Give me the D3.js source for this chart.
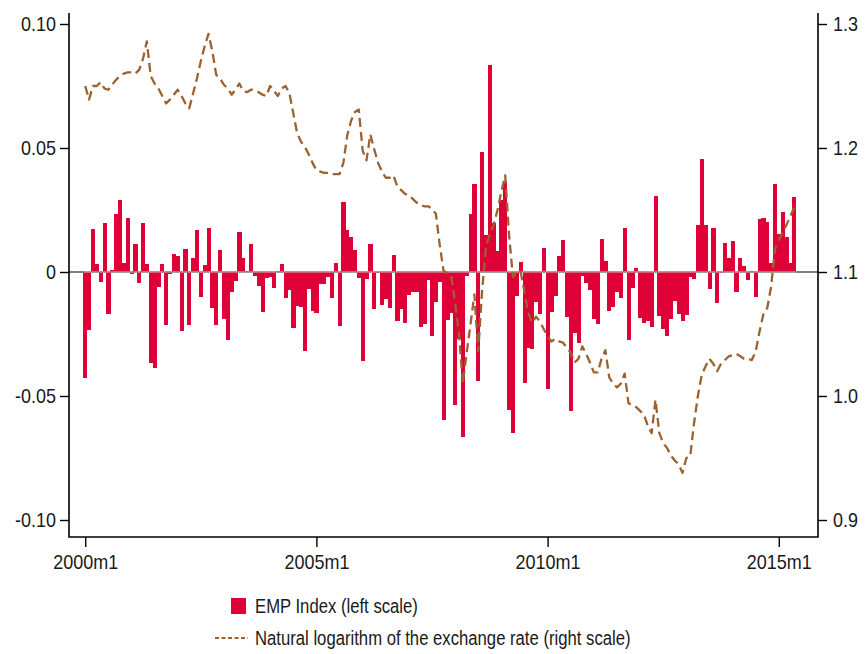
<!DOCTYPE html>
<html>
<head>
<meta charset="utf-8">
<script src="https://cdn.jsdelivr.net/npm/d3@7/dist/d3.min.js"></script>
<style>
  html, body { margin: 0; padding: 0; background: #fff; }
  svg { display: block; }
  text { font-family: "Liberation Sans Narrow", "Arial Narrow", "Liberation Sans", sans-serif; fill: #1a1a1a; }
</style>
</head>
<body>
<svg id="chart" width="866" height="654"></svg>
<script>
// Monthly observations, 2000m1 onwards (index 0 = 2000m1)
const startYear = 2000;

// Exchange market pressure index (left scale)
const emp = [
  -0.0426, -0.0234, 0.0173, 0.0032, -0.0039, 0.0198, -0.0169, 0.0008, 0.0234, 0.0290,
  0.0036, 0.0218, -0.0007, 0.0113, -0.0043, 0.0198, 0.0032, -0.0368, -0.0386, -0.0059,
  0.0032, -0.0212, -0.0010, 0.0073, 0.0065, -0.0237, 0.0093, -0.0212, 0.0056, 0.0169,
  -0.0099, 0.0028, 0.0177, -0.0144, -0.0212, 0.0089, -0.0190, -0.0273, -0.0079, -0.0035,
  0.0161, 0.0056, 0.0003, 0.0113, -0.0015, -0.0055, -0.0160, -0.0023, -0.0019, -0.0063,
  0.0005, 0.0032, -0.0103, -0.0071, -0.0224, -0.0136, -0.0140, -0.0317, -0.0070, -0.0156,
  -0.0164, -0.0047, -0.0047, -0.0019, -0.0103, 0.0036, -0.0216, 0.0282, 0.0169, 0.0141,
  0.0089, -0.0023, -0.0358, -0.0027, 0.0113, -0.0148, -0.0005, -0.0132, -0.0108, -0.0144,
  0.0069, -0.0196, -0.0148, -0.0204, -0.0091, -0.0079, -0.0079, -0.0220, -0.0208, -0.0031,
  -0.0257, -0.0120, -0.0039, -0.0595, -0.0192, -0.0164, -0.0535, -0.0269, -0.0664, -0.0015,
  0.0234, 0.0355, -0.0438, 0.0484, 0.0149, 0.0835, 0.0198, 0.0085, 0.0290, 0.0367,
  -0.0555, -0.0648, -0.0095, 0.0040, -0.0446, -0.0305, -0.0309, -0.0120, -0.0168, 0.0097,
  -0.0470, -0.0160, -0.0095, 0.0065, 0.0129, -0.0180, -0.0559, -0.0245, -0.0285, -0.0015,
  -0.0043, -0.0071, -0.0188, -0.0208, 0.0133, 0.0044, -0.0156, -0.0140, -0.0079, -0.0103,
  0.0177, -0.0273, -0.0063, 0.0016, -0.0184, -0.0204, -0.0196, -0.0220, 0.0306, -0.0176,
  -0.0228, -0.0257, -0.0188, -0.0116, -0.0168, -0.0196, -0.0172, -0.0019, -0.0027, 0.0190,
  0.0456, 0.0190, -0.0067, 0.0177, -0.0124, -0.0003, 0.0117, 0.0056, 0.0125, -0.0079,
  0.0056, 0.0024, -0.0031, 0.0004, -0.0099, 0.0214, 0.0218, 0.0202, 0.0036, 0.0355,
  0.0153, 0.0242, 0.0141, 0.0036, 0.0302
];

// Natural logarithm of the exchange rate (right scale)
const lnRate = [
  1.250, 1.239, 1.250, 1.250, 1.253, 1.248, 1.247, 1.251, 1.255, 1.258,
  1.260, 1.261, 1.261, 1.260, 1.263, 1.272, 1.286, 1.258, 1.252, 1.248,
  1.242, 1.236, 1.239, 1.243, 1.247, 1.242, 1.236, 1.232, 1.244, 1.256,
  1.270, 1.282, 1.292, 1.278, 1.259, 1.256, 1.251, 1.248, 1.243, 1.247,
  1.252, 1.246, 1.245, 1.247, 1.247, 1.245, 1.243, 1.242, 1.250, 1.246,
  1.242, 1.248, 1.250, 1.244, 1.228, 1.212, 1.205, 1.201, 1.195, 1.188,
  1.182, 1.181, 1.180, 1.180, 1.179, 1.179, 1.179, 1.188, 1.210, 1.222,
  1.229, 1.231, 1.198, 1.190, 1.211, 1.199, 1.188, 1.181, 1.176, 1.176,
  1.178, 1.169, 1.166, 1.163, 1.162, 1.159, 1.156, 1.154, 1.153, 1.153,
  1.151, 1.147, 1.122, 1.101, 1.099, 1.097, 1.075, 1.050, 1.010, 1.035,
  1.058, 1.082, 1.036, 1.085, 1.120, 1.131, 1.138, 1.150, 1.165, 1.178,
  1.130, 1.096, 1.100, 1.100, 1.084, 1.067, 1.059, 1.064, 1.060, 1.054,
  1.048, 1.044, 1.046, 1.044, 1.043, 1.039, 1.035, 1.027, 1.030, 1.040,
  1.034, 1.027, 1.019, 1.019, 1.030, 1.037, 1.015, 1.010, 1.007, 1.010,
  1.018, 0.994, 0.993, 0.991, 0.988, 0.985, 0.976, 0.970, 0.997, 0.970,
  0.962, 0.958, 0.952, 0.948, 0.945, 0.938, 0.950, 0.951, 0.978, 1.000,
  1.017, 1.024, 1.030, 1.026, 1.020, 1.026, 1.029, 1.032, 1.033, 1.034,
  1.032, 1.030, 1.030, 1.029, 1.036, 1.052, 1.066, 1.071, 1.088, 1.118,
  1.126, 1.132, 1.138, 1.145, 1.152
];

// Axis ticks and labels
const xTickMonths = [0, 60, 120, 180];
const xTickLabels = ["2000m1", "2005m1", "2010m1", "2015m1"];
const leftTicks = [-0.10, -0.05, 0, 0.05, 0.10];
const leftTickLabels = ["-0.10", "-0.05", "0", "0.05", "0.10"];
const rightTicks = [0.9, 1.0, 1.1, 1.2, 1.3];
const rightTickLabels = ["0.9", "1.0", "1.1", "1.2", "1.3"];
const legendLabels = ["EMP Index (left scale)", "Natural logarithm of the exchange rate (right scale)"];

const barColor = "#DF0037";
const lineColor = "#9C6230";

const svg = d3.select("#chart");

// Plot region frame
const frame = { left: 69, right: 818, top: 13, bottom: 537 };

const x = d3.scaleLinear().domain([0, 180]).range([85.2, 778.8]);
const yL = d3.scaleLinear().domain([-0.10, 0.10]).range([520, 24]);
const yR = d3.scaleLinear().domain([0.9, 1.3]).range([520, 24]);

const barW = x(1) - x(0);

// zero line
svg.append("line")
  .attr("x1", frame.left).attr("x2", frame.right)
  .attr("y1", yL(0)).attr("y2", yL(0))
  .attr("stroke", "#000").attr("stroke-width", 1.2);

// EMP bars
svg.append("g")
  .attr("shape-rendering", "crispEdges")
  .selectAll("rect")
  .data(emp)
  .join("rect")
  .attr("x", (d, i) => x(i) - barW / 2)
  .attr("width", barW + 0.3)
  .attr("y", d => yL(Math.max(0, d)))
  .attr("height", d => Math.abs(yL(d) - yL(0)))
  .attr("fill", barColor);

// light base line across the bars
svg.append("line")
  .attr("x1", x(0) - barW / 2).attr("x2", x(emp.length - 1) + barW / 2)
  .attr("y1", yL(0)).attr("y2", yL(0))
  .attr("stroke", "#c4c4c4").attr("stroke-width", 1.2);

// Exchange-rate line
const line = d3.line()
  .x((d, i) => x(i))
  .y(d => yR(d));

svg.append("path")
  .datum(lnRate)
  .attr("d", line)
  .attr("fill", "none")
  .attr("stroke", lineColor)
  .attr("stroke-width", 2.3)
  .attr("stroke-dasharray", "9,5")
  .attr("stroke-linejoin", "round");

// Axes
const axisFont = "20px";
const tickSqueeze = 0.9;    // condensed tick lettering
const legendSqueeze = 0.835;

const gL = svg.append("g")
  .attr("transform", `translate(${frame.left},0)`)
  .call(d3.axisLeft(yL).tickValues(leftTicks)
    .tickFormat((d, i) => leftTickLabels[i])
    .tickSize(9).tickPadding(4).tickSizeOuter(0));

const gR = svg.append("g")
  .attr("transform", `translate(${frame.right},0)`)
  .call(d3.axisRight(yR).tickValues(rightTicks)
    .tickFormat((d, i) => rightTickLabels[i])
    .tickSize(9).tickPadding(6).tickSizeOuter(0));

const gB = svg.append("g")
  .attr("transform", `translate(0,${frame.bottom})`)
  .call(d3.axisBottom(x).tickValues(xTickMonths)
    .tickFormat((d, i) => xTickLabels[i])
    .tickSize(10).tickPadding(8).tickSizeOuter(0));

[gL, gR, gB].forEach(g => {
  g.select(".domain").remove();
  g.selectAll(".tick line").attr("stroke", "#000").attr("stroke-width", 1.4);
  g.selectAll(".tick text")
    .style("font-size", axisFont)
    .attr("fill", "#1a1a1a")
    .each(function () {
      const t = d3.select(this);
      const x0 = +t.attr("x") || 0;
      t.attr("x", x0 / tickSqueeze).attr("transform", `scale(${tickSqueeze},1)`);
    });
});

// axis lines
svg.append("path")
  .attr("d", `M${frame.left},${frame.top}V${frame.bottom}H${frame.right}V${frame.top}`)
  .attr("fill", "none")
  .attr("stroke", "#000")
  .attr("stroke-width", 1.6);

// Legend
const lg = svg.append("g");
lg.append("rect")
  .attr("x", 231).attr("y", 598).attr("width", 15).attr("height", 16)
  .attr("fill", barColor);
lg.append("text")
  .attr("transform", `translate(255,613) scale(${legendSqueeze},1)`)
  .style("font-size", axisFont)
  .text(legendLabels[0]);
lg.append("line")
  .attr("x1", 215).attr("x2", 248)
  .attr("y1", 638).attr("y2", 638)
  .attr("stroke", lineColor).attr("stroke-width", 2)
  .attr("stroke-dasharray", "4,2.5");
lg.append("text")
  .attr("transform", `translate(255,645) scale(${legendSqueeze},1)`)
  .style("font-size", axisFont)
  .text(legendLabels[1]);
</script>
</body>
</html>
